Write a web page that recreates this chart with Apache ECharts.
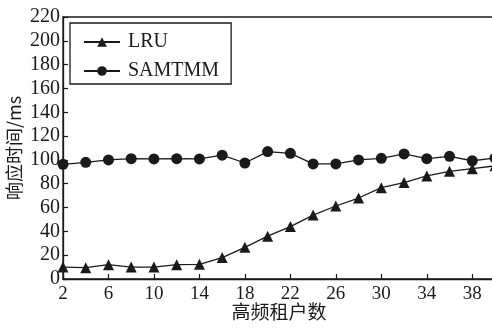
<!DOCTYPE html>
<html>
<head>
<meta charset="utf-8">
<script src="https://cdn.jsdelivr.net/npm/echarts@6/dist/echarts.min.js"></script>
<style>html,body{margin:0;padding:0;background:#fff}#c{width:492px;height:328px}</style>
</head>
<body>
<div id="c"></div>
<script>
const tenants = [2,4,6,8,10,12,14,16,18,20,22,24,26,28,30,32,34,36,38,40];
const lru = [10, 9.5, 12, 10, 10, 12, 12.3, 18, 26.6, 36, 44, 53.7, 61.3, 68, 76.7, 81, 86.5, 90.4, 92.6, 95];
const samtmm = [96.3, 98, 100, 101, 100.8, 101, 100.8, 104, 97.4, 107, 105.5, 96.6, 96.6, 100, 101.3, 105, 101, 103, 99.3, 101.6];
const seriesNames = ['LRU', 'SAMTMM'];
const xName = '高频租户数';
const yName = '响应时间/ms';

const ink = '#1a1a1a';
const serif = 'Liberation Serif';
const chart = echarts.init(document.getElementById('c'), null, {renderer: 'canvas'});
chart.setOption({
  animation: false,
  backgroundColor: '#fff',
  grid: {left: 63, top: 17, bottom: 49, right: -3, show: true, borderColor: ink, borderWidth: 1.3, containLabel: false, outerBoundsMode: 'none'},
  legend: {
    orient: 'vertical', left: 70, top: 23,
    data: seriesNames,
    borderColor: ink, borderWidth: 1.3,
    padding: [9, 12, 3, 13],
    itemWidth: 36, itemHeight: 12, itemGap: 9,
    textStyle: {fontFamily: serif, fontSize: 20, color: ink, lineHeight: 20, padding: [0,0,0,3]}
  },
  xAxis: {
    type: 'value', min: 2, max: 40, interval: 4,
    name: xName, nameLocation: 'middle', nameGap: 23, nameMoveOverlap: false,
    nameTextStyle: {fontFamily: 'Noto Sans CJK SC', fontSize: 19, color: ink},
    axisLine: {lineStyle: {color: ink, width: 1.3}},
    axisTick: {inside: true, length: 5, lineStyle: {color: ink, width: 1.2}},
    axisLabel: {fontFamily: serif, fontSize: 19, color: ink, margin: 6, showMaxLabel: false},
    splitLine: {show: false}
  },
  yAxis: {
    type: 'value', min: 0, max: 220, interval: 20,
    name: yName, nameLocation: 'middle', nameGap: 40, nameRotate: 90, nameMoveOverlap: false,
    nameTextStyle: {fontFamily: 'Noto Sans CJK SC', fontSize: 18, color: ink},
    axisLine: {show: true, lineStyle: {color: ink, width: 1.3}},
    axisTick: {show: true, inside: true, length: 5, lineStyle: {color: ink, width: 1.2}},
    axisLabel: {fontFamily: serif, fontSize: 20, color: ink, margin: 3},
    splitLine: {show: false}
  },
  series: [
    {
      name: seriesNames[0], type: 'line',
      data: tenants.map((t, i) => [t, lru[i]]),
      symbol: 'triangle', symbolSize: [11, 11],
      lineStyle: {color: ink, width: 1.3},
      itemStyle: {color: ink},
      clip: false
    },
    {
      name: seriesNames[1], type: 'line',
      data: tenants.map((t, i) => [t, samtmm[i]]),
      symbol: 'circle', symbolSize: 11,
      lineStyle: {color: ink, width: 1.3},
      itemStyle: {color: ink},
      clip: false
    }
  ]
});
</script>
</body>
</html>
